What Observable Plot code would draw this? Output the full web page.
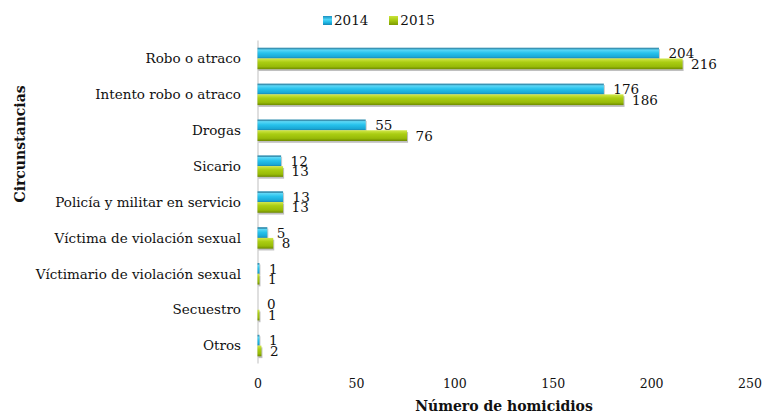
<!DOCTYPE html>
<html><head><meta charset="utf-8">
<script src="https://cdn.jsdelivr.net/npm/d3@7"></script>
<script src="https://cdn.jsdelivr.net/npm/@observablehq/plot@0.6"></script>
<style>
body{margin:0;background:#fff;font-family:"DejaVu Serif",serif;color:#111;}
#legend{height:38px;display:flex;align-items:center;padding-left:323px;font-size:13.5px;box-sizing:border-box;padding-top:2px;}
.sw{width:9px;height:9px;display:inline-block;margin-right:2px;}
.item{display:flex;align-items:center;margin-right:21px;}
</style></head><body>
<div id="legend"></div>
<div id="chart"></div>
<script>
const categories = ["Robo o atraco","Intento robo o atraco","Drogas","Sicario","Policía y militar en servicio","Víctima de violación sexual","Víctimario de violación sexual","Secuestro","Otros"];
const values2014 = [204,176,55,12,13,5,1,0,1];
const values2015 = [216,186,76,13,13,8,1,1,2];
const years = ["2014","2015"];
const xTicks = [0,50,100,150,200,250];
const xTitle = "Número de homicidios";
const yTitle = "Circunstancias";

const rows = categories.map((c,i)=>({cat:c, v14:values2014[i], v15:values2015[i]}));

const legend = document.getElementById("legend");
const swatchBg = ["linear-gradient(#1a8fc0,#4fd6f7 40%,#1fb9e6 70%,#1786b4)","linear-gradient(#c9e33c,#a6c80f 50%,#7c9a02)"];
years.forEach((y,i)=>{
  const it=document.createElement("span");it.className="item";
  const s=document.createElement("span");s.className="sw";s.style.background=swatchBg[i];
  it.appendChild(s);it.appendChild(document.createTextNode(y));legend.appendChild(it);
});

const bw = 10.8;
const chart = Plot.plot({
  width:762, height:380,
  marginTop:2.5, marginBottom:54.5, marginLeft:257.5, marginRight:12.5,
  style:{fontFamily:"DejaVu Serif", fontSize:"13px", color:"#111", background:"#fff", overflow:"visible"},
  x:{domain:[0,250], ticks:xTicks, label:null},
  y:{domain:categories, paddingInner:0.4, paddingOuter:0.2, round:false, label:null},
  marks:[
    Plot.axisX({ticks:xTicks, tickSize:0, tickPadding:15, fontSize:12.5, label:null}),
    Plot.axisY({tickSize:0, tickPadding:17, fontSize:13.5, label:null}),
    Plot.ruleX([0],{stroke:"#d4d4d4", strokeWidth:1.5}),
    // shadows
    Plot.barX(rows,{x:"v14", y:"cat", insetBottom:bw, fill:"#8a8a8a", fillOpacity:0.45, dx:1, dy:1.5}),
    Plot.barX(rows,{x:"v15", y:"cat", insetTop:bw, fill:"#8a8a8a", fillOpacity:0.55, dx:1, dy:1.8}),
    Plot.barX(rows,{x:"v14", y:"cat", insetBottom:bw, fill:"url(#g14)"}),
    Plot.barX(rows,{x:"v15", y:"cat", insetTop:bw, fill:"url(#g15)"}),
    Plot.text(rows,{x:"v14", y:"cat", text:d=>String(d.v14), dx:9, dy:-5, textAnchor:"start", fontSize:13.5, fill:"#111"}),
    Plot.text(rows,{x:"v15", y:"cat", text:d=>String(d.v15), dx:8, dy:5.5, textAnchor:"start", fontSize:13.5, fill:"#111"}),
    Plot.text([xTitle],{frameAnchor:"bottom", dy:47, fontWeight:"bold", fontSize:14, fill:"#111"}),
    Plot.text([yTitle],{frameAnchor:"left", dx:-237, rotate:-90, fontWeight:"bold", fontSize:14, fill:"#111"})
  ]
});
const ns="http://www.w3.org/2000/svg";
const defs=document.createElementNS(ns,"defs");
function grad(id,stops){
  const g=document.createElementNS(ns,"linearGradient");
  g.setAttribute("id",id);g.setAttribute("x1","0");g.setAttribute("y1","0");g.setAttribute("x2","0");g.setAttribute("y2","1");
  stops.forEach(([o,c])=>{const s=document.createElementNS(ns,"stop");s.setAttribute("offset",o);s.setAttribute("stop-color",c);g.appendChild(s);});
  defs.appendChild(g);
}
grad("g14",[["0","#3a94b4"],["0.12","#3a94b4"],["0.2","#5cd8f7"],["0.5","#27c2ec"],["0.85","#1aa8d6"],["1","#1785b0"]]);
grad("g15",[["0","#d2e84a"],["0.35","#aacd12"],["0.75","#98bb08"],["1","#6e8a00"]]);
chart.insertBefore(defs, chart.firstChild);
document.getElementById("chart").appendChild(chart);
</script>
</body></html>
